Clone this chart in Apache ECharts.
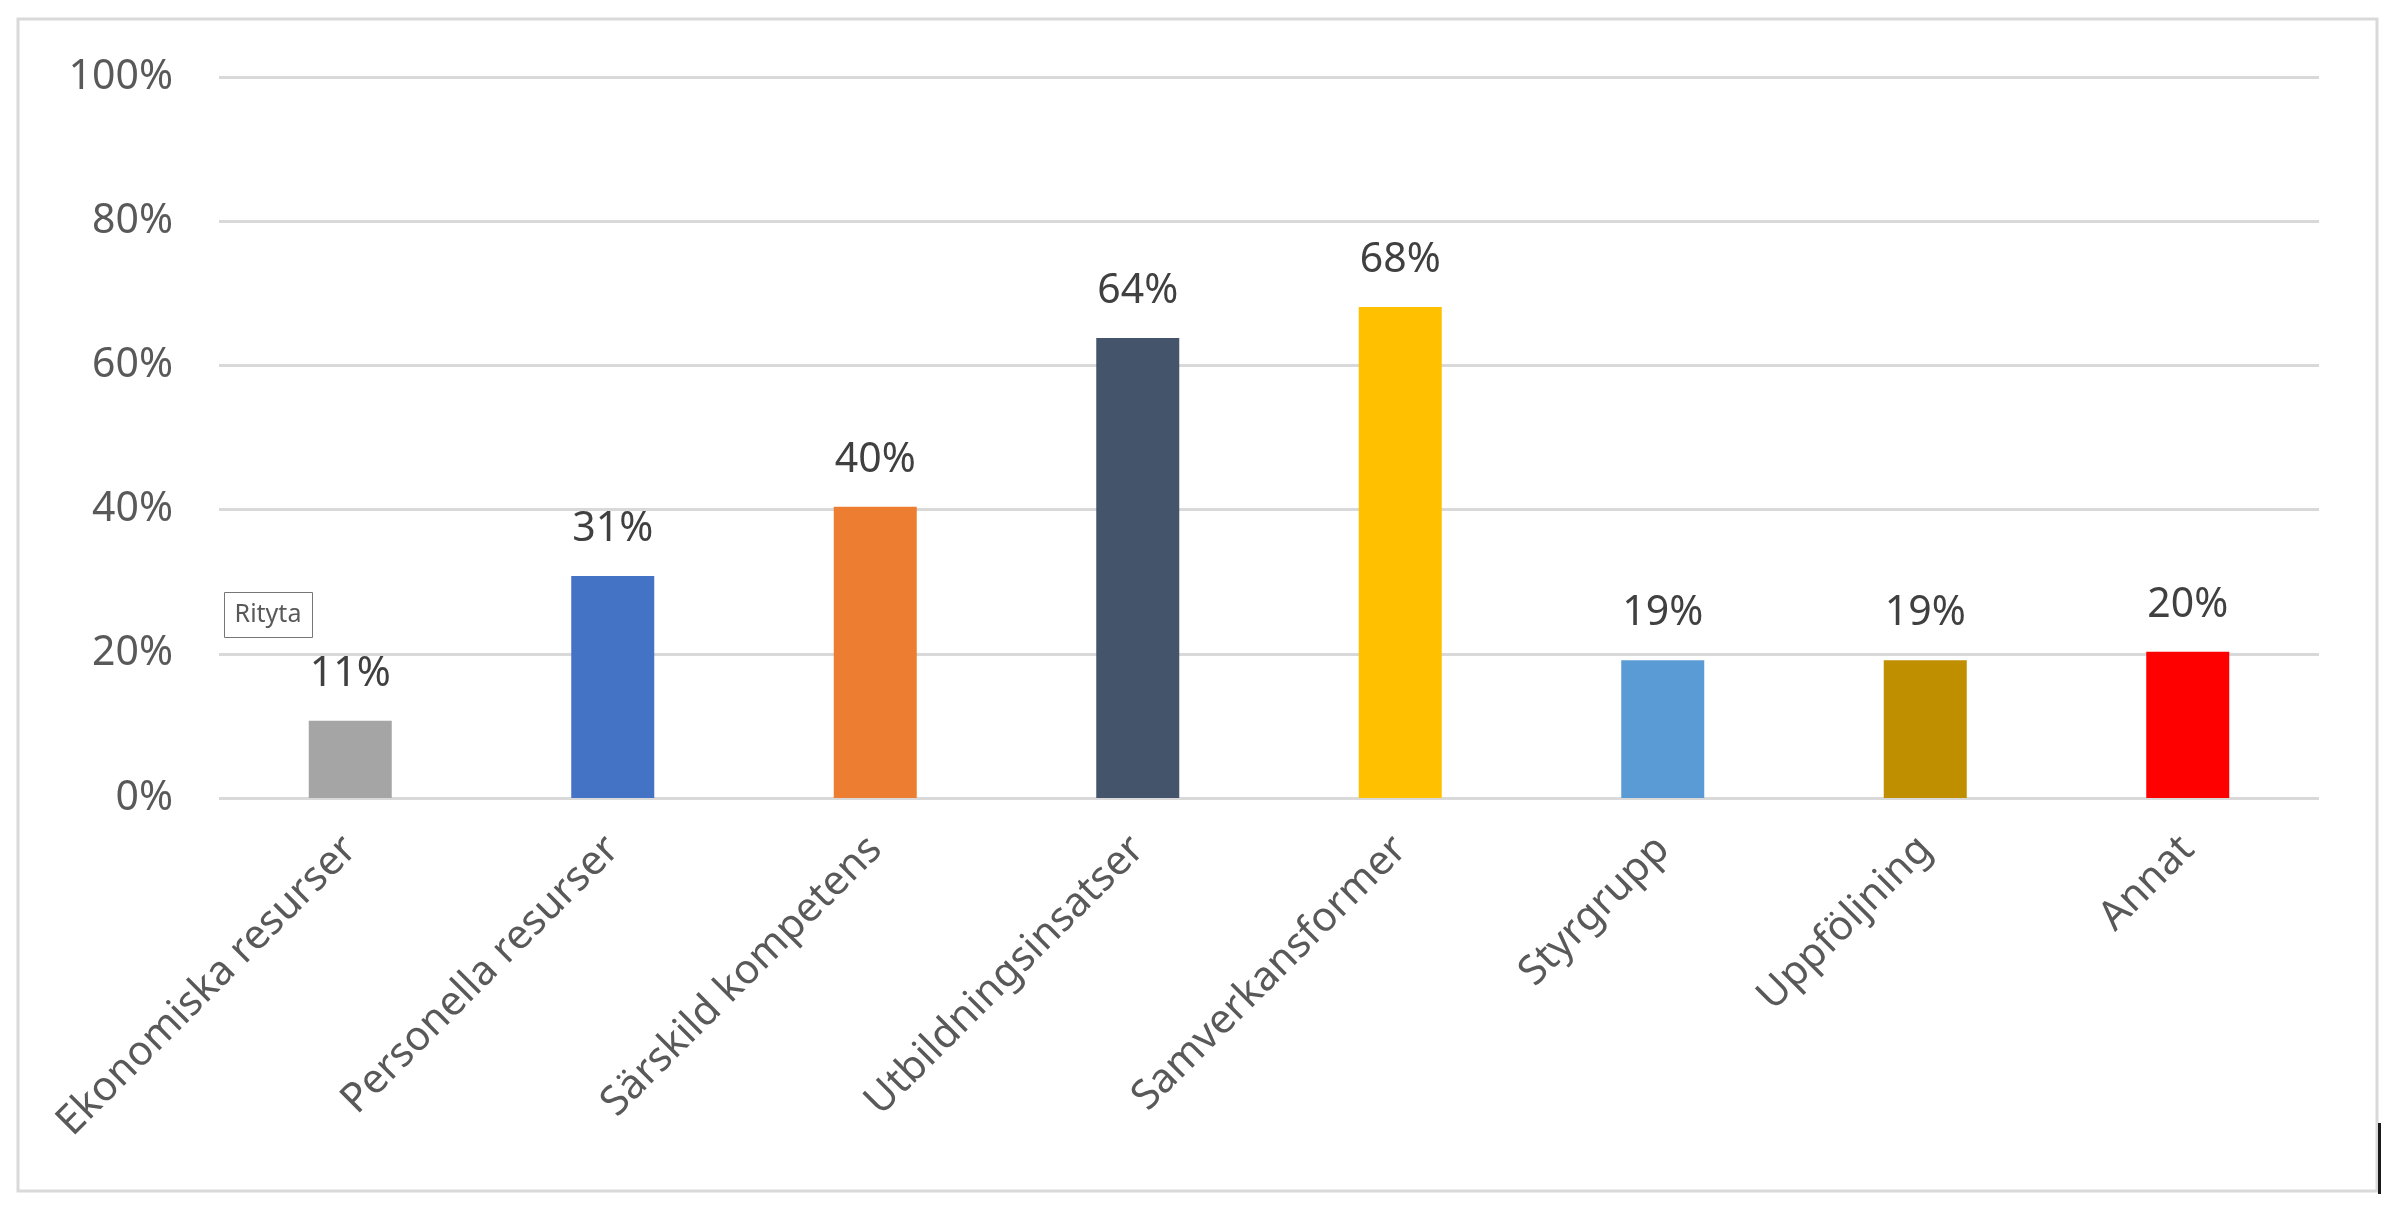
<!DOCTYPE html>
<html>
<head>
<meta charset="utf-8">
<script src="https://cdn.jsdelivr.net/npm/echarts@6/dist/echarts.min.js"></script>
<style>
html,body{margin:0;padding:0;background:#fff;}
#main{width:2394px;height:1212px;}
</style>
</head>
<body>
<div id="main"></div>
<script>
var categories = ['Ekonomiska resurser','Personella resurser','Särskild kompetens','Utbildningsinsatser','Samverkansformer','Styrgrupp','Uppföljning','Annat'];
var values = [10.7, 30.8, 40.4, 63.8, 68.1, 19.1, 19.1, 20.3];
var barColors = ['#A5A5A5','#4472C4','#ED7D31','#44546A','#FFC000','#5B9BD5','#BF8F00','#FF0000'];
var yTicks = [0, 20, 40, 60, 80, 100];

var FONT = 'Noto Sans';
var chart = echarts.init(document.getElementById('main'));
chart.setOption({
  animation: false,
  backgroundColor: '#fff',
  grid: {left: 219, right: 75, top: 77, bottom: 414},
  xAxis: {
    type: 'category',
    data: categories,
    axisLine: {show: false},
    axisTick: {show: false},
    axisLabel: {rotate: 45, margin: 45, color: '#595959', fontFamily: FONT, fontSize: 41, interval: 0}
  },
  yAxis: {
    type: 'value',
    min: yTicks[0],
    max: yTicks[yTicks.length - 1],
    interval: yTicks[1] - yTicks[0],
    axisLine: {show: false},
    axisTick: {show: false},
    splitLine: {lineStyle: {color: '#D9D9D9', width: 3}},
    axisLabel: {margin: 46, color: '#595959', fontFamily: FONT, fontSize: 41, formatter: '{value}%'}
  },
  series: [{
    type: 'bar',
    barWidth: 83,
    data: values.map(function (v, i) { return {value: v, itemStyle: {color: barColors[i]}}; }),
    label: {
      show: true, position: 'top', distance: 26,
      color: '#404040', fontFamily: FONT, fontSize: 41,
      formatter: function (p) { return Math.round(p.value) + '%'; }
    }
  }],
  graphic: [
    {type: 'rect', shape: {x: 18, y: 19, width: 2359, height: 1172}, style: {fill: 'none', stroke: '#D9D9D9', lineWidth: 3}, silent: true},
    {type: 'rect', shape: {x: 2378, y: 1123, width: 3, height: 71}, style: {fill: '#1a1a1a'}, silent: true},
    {type: 'rect', shape: {x: 224.5, y: 592.5, width: 88, height: 45}, style: {fill: '#fff', stroke: '#767676', lineWidth: 1}, silent: true},
    {type: 'text', x: 268, y: 615, style: {text: 'Rityta', fill: '#595959', font: '25px "Noto Sans"', align: 'center', verticalAlign: 'middle'}, silent: true}
  ]
});
</script>
</body>
</html>
